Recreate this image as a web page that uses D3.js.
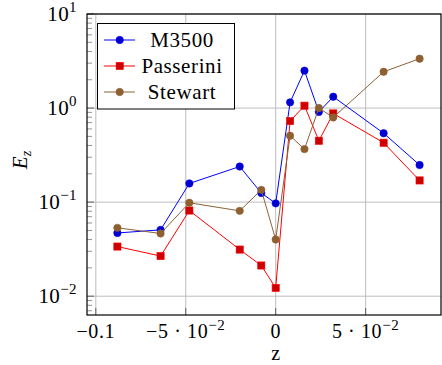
<!DOCTYPE html>
<html><head><meta charset="utf-8">
<script src="https://cdn.jsdelivr.net/npm/d3@7"></script>
<style>body{margin:0;background:#fff}svg{display:block}</style>
</head><body><svg id="c" width="442" height="365" font-family="'Liberation Serif', 'DejaVu Serif', serif"></svg>
<script>
const zValues = [-0.088, -0.064, -0.048, -0.020, -0.008, 0, 0.008, 0.016, 0.024, 0.032, 0.060, 0.080];
const m3500 = [0.047, 0.0507, 0.158, 0.239, 0.125, 0.097, 1.15, 2.5, 0.91, 1.32, 0.54, 0.248];
const passerini = [0.0337, 0.0267, 0.0814, 0.0313, 0.0212, 0.01225, 0.727, 1.06, 0.449, 0.877, 0.428, 0.17];
const stewart = [0.0533, 0.0464, 0.0984, 0.0808, 0.135, 0.040, 0.507, 0.366, 1.0, 0.795, 2.43, 3.35];
const seriesNames = ["M3500", "Passerini", "Stewart"];
const xTicks = [-0.1, -0.05, 0, 0.05];
const xTickLabels = [["\u22120.1", null], ["\u22125 \u00B7 10", "\u22122"], ["0", null], ["5 \u00B7 10", "\u22122"]];
const yTicks = [0.01, 0.1, 1, 10];
const yTickLabels = [["10", "\u22122"], ["10", "\u22121"], ["10", "0"], ["10", "1"]];

const FONT = "'Liberation Serif', 'DejaVu Serif', serif";
const svg = d3.select("#c");
const L = 87, R = 441, T = 14, B = 315;
const x = d3.scaleLinear().domain([-0.1049, 0.0919]).range([L, R]);
const y = d3.scaleLog().domain([10 ** -2.2, 10]).range([B, T]);

const styles = [
  {line: "#0000ff", fill: "#0000cc", shape: "circle"},
  {line: "#ff0000", fill: "#cc0000", shape: "square"},
  {line: "#8b6238", fill: "#8f5f30", shape: "circle"}
];
const data = [m3500, passerini, stewart];

// grid
const g = svg.append("g");
g.selectAll(".gx").data(xTicks).join("line")
  .attr("x1", d => x(d)).attr("x2", d => x(d)).attr("y1", T).attr("y2", B)
  .attr("stroke", "#bdbdbd").attr("stroke-width", 1);
g.selectAll(".gy").data(yTicks).join("line")
  .attr("y1", d => y(d)).attr("y2", d => y(d)).attr("x1", L).attr("x2", R)
  .attr("stroke", "#bdbdbd").attr("stroke-width", 1);

// minor ticks on y
const minors = [];
for (let e = -3; e <= 0; e++) for (let k = 2; k <= 9; k++) { const v = k * 10 ** e; if (v > y.domain()[0] && v < 10) minors.push(v); }
g.selectAll(".my").data(minors).join("line")
  .attr("x1", L).attr("x2", L + 5).attr("y1", d => y(d)).attr("y2", d => y(d))
  .attr("stroke", "#777").attr("stroke-width", 0.8);
g.selectAll(".My").data(yTicks).join("line")
  .attr("x1", L).attr("x2", L + 7).attr("y1", d => y(d)).attr("y2", d => y(d))
  .attr("stroke", "#444").attr("stroke-width", 0.8);
g.selectAll(".Mx").data(xTicks).join("line")
  .attr("y1", B).attr("y2", B - 7).attr("x1", d => x(d)).attr("x2", d => x(d))
  .attr("stroke", "#444").attr("stroke-width", 0.8);

// frame
svg.append("rect").attr("x", L).attr("y", T).attr("width", R - L).attr("height", B - T)
  .attr("fill", "none").attr("stroke", "#000").attr("stroke-width", 1.2);

// series
const line = d3.line().x((d, i) => x(zValues[i])).y(d => y(d));
data.forEach((vals, si) => {
  const st = styles[si];
  svg.append("path").datum(vals).attr("d", line).attr("fill", "none")
    .attr("stroke", st.line).attr("stroke-width", 1);
  const mg = svg.append("g");
  vals.forEach((v, i) => drawMarker(mg, x(zValues[i]), y(v), st));
});

function drawMarker(sel, cx, cy, st) {
  if (st.shape === "circle") {
    sel.append("circle").attr("cx", cx).attr("cy", cy).attr("r", 3.7)
      .attr("fill", st.fill).attr("stroke", st.line).attr("stroke-width", 0.6);
  } else {
    sel.append("rect").attr("x", cx - 3.6).attr("y", cy - 3.6).attr("width", 7.2).attr("height", 7.2)
      .attr("fill", st.fill).attr("stroke", st.line).attr("stroke-width", 0.6);
  }
}

function txt(sel) { return sel.append("text").attr("font-family", FONT).attr("fill", "#000"); }

// x tick labels
const fs = 21, tfs = 20;
xTicks.forEach((t, i) => {
  const [base, sup] = xTickLabels[i];
  const tx = txt(svg).attr("x", x(t)).attr("y", 338).attr("text-anchor", "middle")
    .attr("font-size", tfs).attr("letter-spacing", 0.6);
  tx.append("tspan").text(base);
  if (sup) tx.append("tspan").attr("dy", -8).attr("font-size", 15).text(sup);
});
// y tick labels
yTicks.forEach((t, i) => {
  const [base, sup] = yTickLabels[i];
  const tx = txt(svg).attr("x", 77).attr("y", y(t) + 7).attr("text-anchor", "end")
    .attr("font-size", fs).attr("letter-spacing", 0.4);
  tx.append("tspan").text(base);
  tx.append("tspan").attr("dy", -9).attr("font-size", 15).text(sup);
});

// axis labels
txt(svg).attr("x", x(0)).attr("y", 360).attr("text-anchor", "middle")
  .attr("font-size", tfs).text("z");
const yl = txt(svg).attr("transform", "translate(27,160) rotate(-90)")
  .attr("text-anchor", "middle").attr("font-size", fs);
yl.append("tspan").attr("font-style", "italic").text("E");
yl.append("tspan").attr("font-style", "italic").attr("font-size", 14).attr("dy", 4).text("z");

// legend
const lg = svg.append("g");
lg.append("rect").attr("x", 97.5).attr("y", 23.5).attr("width", 137).attr("height", 85.5)
  .attr("fill", "#fff").attr("stroke", "#000").attr("stroke-width", 1);
seriesNames.forEach((n, i) => {
  const ly = 40 + i * 26;
  lg.append("line").attr("x1", 104).attr("x2", 135).attr("y1", ly).attr("y2", ly)
    .attr("stroke", styles[i].line).attr("stroke-width", 1);
  drawMarker(lg, 119.7, ly, styles[i]);
  txt(lg).attr("x", 182).attr("y", ly + 7).attr("text-anchor", "middle")
    .attr("font-size", fs).attr("letter-spacing", 0.6).text(n);
});
</script></body></html>
